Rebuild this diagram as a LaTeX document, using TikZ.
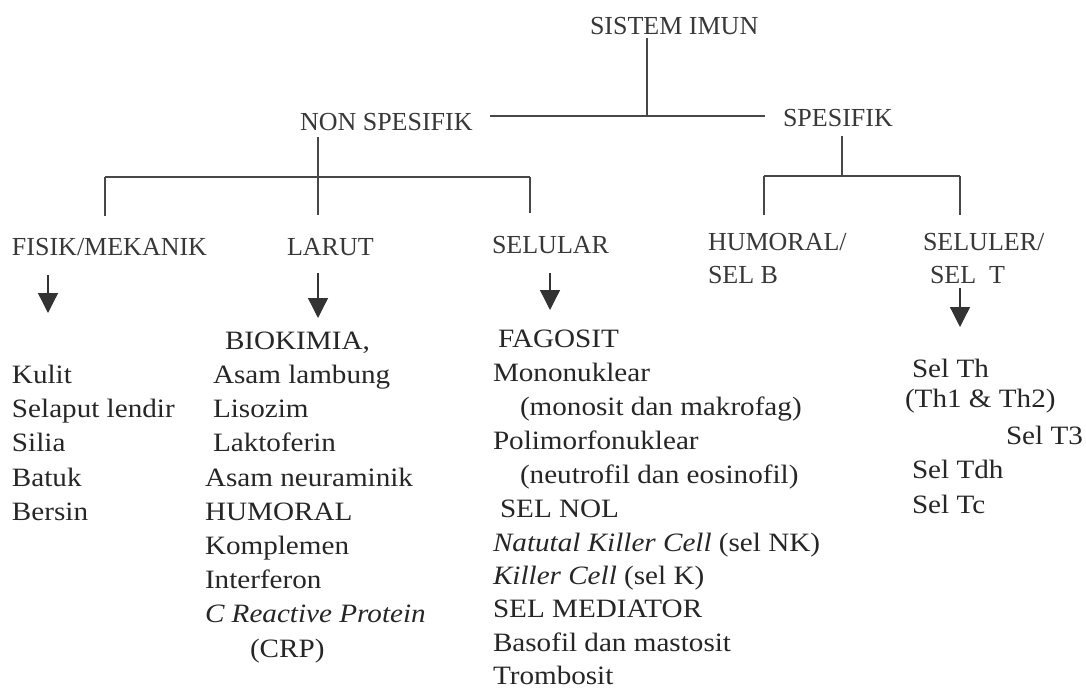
\documentclass[tikz,border=0pt]{standalone}
\usepackage{fontspec}
\setmainfont{Liberation Serif}
\newfontfamily\bodyf{Liberation Serif}[FakeStretch=1.1]
\usetikzlibrary{arrows.meta}
\begin{document}
\begin{tikzpicture}[x=1pt,y=-1pt,
  head/.style={inner sep=0pt, outer sep=0pt, anchor=base west, font=\fontsize{26}{30}\selectfont, text=black!78},
  item/.style={inner sep=0pt, outer sep=0pt, anchor=base west, font=\bodyf\fontsize{26.5}{30}\selectfont, text=black!85},
  ln/.style={draw=black!72, line width=1.3pt},
  arr/.style={draw=black!80, line width=1.3pt, -{Triangle[width=20pt,length=20pt]}}]
\useasboundingbox (0,0) rectangle (1086,690);
\fill[white] (0,0) rectangle (1086,690);

% headings
\node[head] (sistem) at (590,35) {SISTEM IMUN};
\node[head] (non) at (300,130) {NON SPESIFIK};
\node[head] (spes) at (783,127) {SPESIFIK};
\node[head] (fisik) at (12,255) {FISIK/MEKANIK};
\node[head] (larut) at (287,255) {LARUT};
\node[head] (selular) at (492,253) {SELULAR};
\node[head] (hum1) at (708,250) {HUMORAL/};
\node[head] (hum2) at (708,283) {SEL B};
\node[head] (selu1) at (923,250) {SELULER/};
\node[head] (selu2) at (930,283) {SEL\ \ T};

% junctions
\coordinate (tj) at (647,116);
\coordinate (nj) at (318,177);
\coordinate (nl) at (105,177);
\coordinate (nr) at (530,177);
\coordinate (sj) at (842,176);
\coordinate (sl) at (764,176);
\coordinate (sr) at (960,176);

% tree lines
\draw[ln, shorten <=3pt] (sistem.south -| tj) -- (tj);
\draw[ln] (490,116) -- (tj) -- (765,116);
\draw[ln, shorten <=7pt, shorten >=23pt] (non.south -| nj) -- (nj |- larut.north);
\draw[ln] (nl) -- (nr);
\draw[ln, shorten >=22pt] (nl) -- (nl |- fisik.north);
\draw[ln, shorten >=23pt] (nr) -- (nr |- selular.north);
\draw[ln, shorten <=9pt] (spes.south -| sj) -- (sj);
\draw[ln] (sl) -- (sr);
\draw[ln, shorten >=18pt] (sl) -- (sl |- hum1.north);
\draw[ln, shorten >=18pt] (sr) -- (sr |- selu1.north);

% arrows
\coordinate (a1s) at (48,275);  \coordinate (a1e) at (48,313);
\coordinate (a2s) at (318,273); \coordinate (a2e) at (318,318);
\coordinate (a3s) at (550,273); \coordinate (a3e) at (550,310);
\coordinate (a4s) at (960,288); \coordinate (a4e) at (960,327);
\draw[arr] (a1s) -- (a1e);
\draw[arr] (a2s) -- (a2e);
\draw[arr] (a3s) -- (a3e);
\draw[arr] (a4s) -- (a4e);

% fisik column
\node[item] (fk1) at (12,383) {Kulit};
\node[item] (fk2) at (12,417) {Selaput lendir};
\node[item] (fk3) at (12,451) {Silia};
\node[item] (fk4) at (12,486) {Batuk};
\node[item] (fk5) at (12,520) {Bersin};

% larut column
\node[item] (lr0) at (225,349) {BIOKIMIA,};
\node[item] (lr1) at (213,383) {Asam lambung};
\node[item] (lr2) at (213,417) {Lisozim};
\node[item] (lr3) at (213,451) {Laktoferin};
\node[item] (lr4) at (205,486) {Asam neuraminik};
\node[item] (lr5) at (205,520) {HUMORAL};
\node[item] (lr6) at (205,554) {Komplemen};
\node[item] (lr7) at (205,588) {Interferon};
\node[item] (lr8) at (205,622) {\itshape C Reactive Protein};
\node[item] (lr9) at (250,657) {(CRP)};

% selular column
\node[item] (sl0) at (498,347) {FAGOSIT};
\node[item] (sl1) at (493,381) {Mononuklear};
\node[item] (sl2) at (520,415) {(monosit dan makrofag)};
\node[item] (sl3) at (493,449) {Polimorfonuklear};
\node[item] (sl4) at (520,483) {(neutrofil dan eosinofil)};
\node[item] (sl5) at (500,517) {SEL NOL};
\node[item] (sl6) at (493,551) {\textit{Natutal Killer Cell} (sel NK)};
\node[item] (sl7) at (493,584) {\textit{Killer Cell} (sel K)};
\node[item] (sl8) at (493,617) {SEL MEDIATOR};
\node[item] (sl9) at (493,651) {Basofil dan mastosit};
\node[item] (sl10) at (493,684) {Trombosit};

% sel T column
\node[item] (st1) at (912,377) {Sel Th};
\node[item] (st2) at (905,407) {(Th1 \& Th2)};
\node[item] (st3) at (1006,444) {Sel T3};
\node[item] (st4) at (912,478) {Sel Tdh};
\node[item] (st5) at (912,513) {Sel Tc};
\end{tikzpicture}
\end{document}
